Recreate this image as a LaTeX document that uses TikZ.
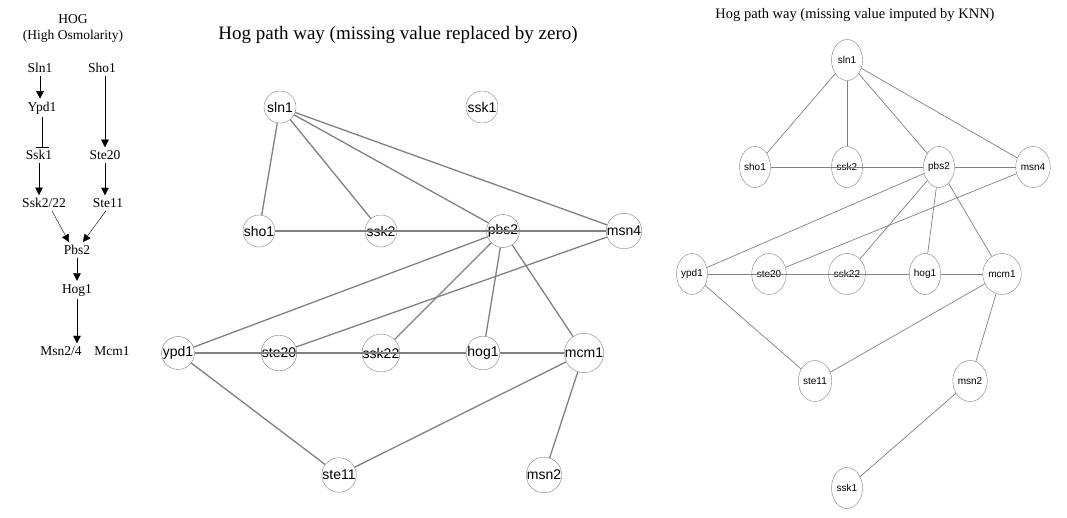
\documentclass[tikz,border=0pt]{standalone}
\usepackage{fontspec}
\setmainfont{Liberation Serif}
\setsansfont{Liberation Sans}
\usetikzlibrary{arrows.meta}
\usetikzlibrary{shapes.geometric}

\begin{document}
\begin{tikzpicture}[x=1pt,y=-1pt,
	gene/.style={inner sep=3pt,font=\fontsize{13.5}{16}\selectfont},
	act/.style={-{Triangle[length=7.5pt,width=7.5pt]}},
	inh/.style={-{Bar[width=13pt]}},
	vz/.style={circle,draw=gray,minimum size=32pt,inner sep=0pt,font=\sffamily\fontsize{14}{16}\selectfont},
	vk/.style={ellipse,draw=gray,minimum width=31pt,minimum height=41pt,inner sep=0pt,font=\sffamily\fontsize{10}{12}\selectfont},
	ez/.style={draw=gray,line width=1.3pt},
	ek/.style={draw=gray,line width=0.7pt}]
	\useasboundingbox (0,0) rectangle (1067,517);

	% HOG pathway
	\node[gene] (hog) at (73,19) {HOG};
	\node[gene] (osm) at (73,36) {(High Osmolarity)};
	\node[gene] (sln) at (40,68) {Sln1};
	\node[gene] (sho) at (102,68) {Sho1};
	\node[gene] (ypd) at (42,108) {Ypd1};
	\node[gene] (ssk) at (39,155) {Ssk1};
	\node[gene] (ste20) at (105,155) {Ste20};
	\node[gene] (sskk) at (44,203) {Ssk2/22};
	\node[gene] (ste11) at (108,203) {Ste11};
	\node[gene] (pbs) at (77,250) {Pbs2};
	\node[gene] (hogone) at (77,290) {Hog1};
	\node[gene] (msn) at (61,351) {Msn2/4};
	\node[gene] (mcm) at (112,351) {Mcm1};
	\draw[act] (sln) -- (sln |- ypd.north);
	\draw[inh] (ypd) -- (ypd |- ssk.north);
	\draw[act] (ste20 |- sho.south) -- (ste20);
	\draw[act] (ssk) -- (ssk |- sskk.north);
	\draw[act] (ste20) -- (ste20 |- ste11.north);
	\draw[act] ([xshift=8pt]sskk.south) -- ([xshift=-8pt]pbs.north);
	\draw[act] ([xshift=-2pt]ste11.south) -- ([xshift=6pt]pbs.north);
	\draw[act] (pbs) -- (hogone);
	\draw[act] (hogone.south) -- (hogone |- msn.north);

	% missing value replaced by zero
	\node (tz) at (398,35) {\fontsize{19}{22}\selectfont Hog path way (missing value replaced by zero)};
	\node[vz] (zsln1) at (280,107) {sln1};
	\node[vz] (zssk1) at (482,107) {ssk1};
	\node[vz] (zsho1) at (259,231) {sho1};
	\node[vz] (zssk2) at (381,231) {ssk2};
	\node[vz] (zpbs2) at (503,231) {pbs2};
	\node[vz] (zmsn4) at (624,231) {msn4};
	\node[vz] (zypd1) at (178,353) {ypd1};
	\node[vz] (zste20) at (279,353) {ste20};
	\node[vz] (zssk22) at (381,353) {ssk22};
	\node[vz] (zhog1) at (483,353) {hog1};
	\node[vz] (zmcm1) at (584,353) {mcm1};
	\node[vz] (zste11) at (339,475) {ste11};
	\node[vz] (zmsn2) at (544,475) {msn2};
	\draw[ez] (zsln1) -- (zsho1);
	\draw[ez] (zsln1) -- (zssk2);
	\draw[ez] (zsln1) -- (zpbs2);
	\draw[ez] (zsln1) -- (zmsn4);
	\draw[ez] (zsho1) -- (zmsn4);
	\draw[ez] (zpbs2) -- (zypd1);
	\draw[ez] (zpbs2) -- (zssk22);
	\draw[ez] (zpbs2) -- (zhog1);
	\draw[ez] (zpbs2) -- (zmcm1);
	\draw[ez] (zmsn4) -- (zste20);
	\draw[ez] (zypd1) -- (zhog1);
	\draw[ez] (zhog1) -- (zmcm1);
	\draw[ez] (zypd1) -- (zste11);
	\draw[ez] (zste11) -- (zmcm1);
	\draw[ez] (zmcm1) -- (zmsn2);

	% missing value imputed by KNN
	\node (tk) at (855,15) {\fontsize{14.5}{17}\selectfont Hog path way (missing value imputed by KNN)};
	\node[vk] (ksln1) at (847,60) {sln1};
	\node[vk] (ksho1) at (755,167) {sho1};
	\node[vk] (kssk2) at (847,167) {ssk2};
	\node[vk] (kpbs2) at (939,167) {pbs2};
	\node[vk] (kmsn4) at (1033,167) {msn4};
	\node[vk] (kypd1) at (692,274) {ypd1};
	\node[vk] (kste20) at (769,274) {ste20};
	\node[vk] (kssk22) at (847,274) {ssk22};
	\node[vk] (khog1) at (925,274) {hog1};
	\node[vk] (kmcm1) at (1002,274) {mcm1};
	\node[vk] (kste11) at (815,381) {ste11};
	\node[vk] (kmsn2) at (970,381) {msn2};
	\node[vk] (kssk1) at (847,488) {ssk1};
	\draw[ek] (ksln1) -- (ksho1);
	\draw[ek] (ksln1) -- (kssk2);
	\draw[ek] (ksln1) -- (kpbs2);
	\draw[ek] (ksln1) -- (kmsn4);
	\draw[ek] (ksho1) -- (kpbs2);
	\draw[ek] (kpbs2) -- (kmsn4);
	\draw[ek] (kpbs2) -- (kypd1);
	\draw[ek] (kpbs2) -- (kssk22);
	\draw[ek] (kpbs2) -- (khog1);
	\draw[ek] (kpbs2) -- (kmcm1);
	\draw[ek] (kmsn4) -- (kste20);
	\draw[ek] (kypd1) -- (khog1);
	\draw[ek] (khog1) -- (kmcm1);
	\draw[ek] (kypd1) -- (kste11);
	\draw[ek] (kste11) -- (kmcm1);
	\draw[ek] (kmcm1) -- (kmsn2);
	\draw[ek] (kmsn2) -- (kssk1);
\end{tikzpicture}
\end{document}
